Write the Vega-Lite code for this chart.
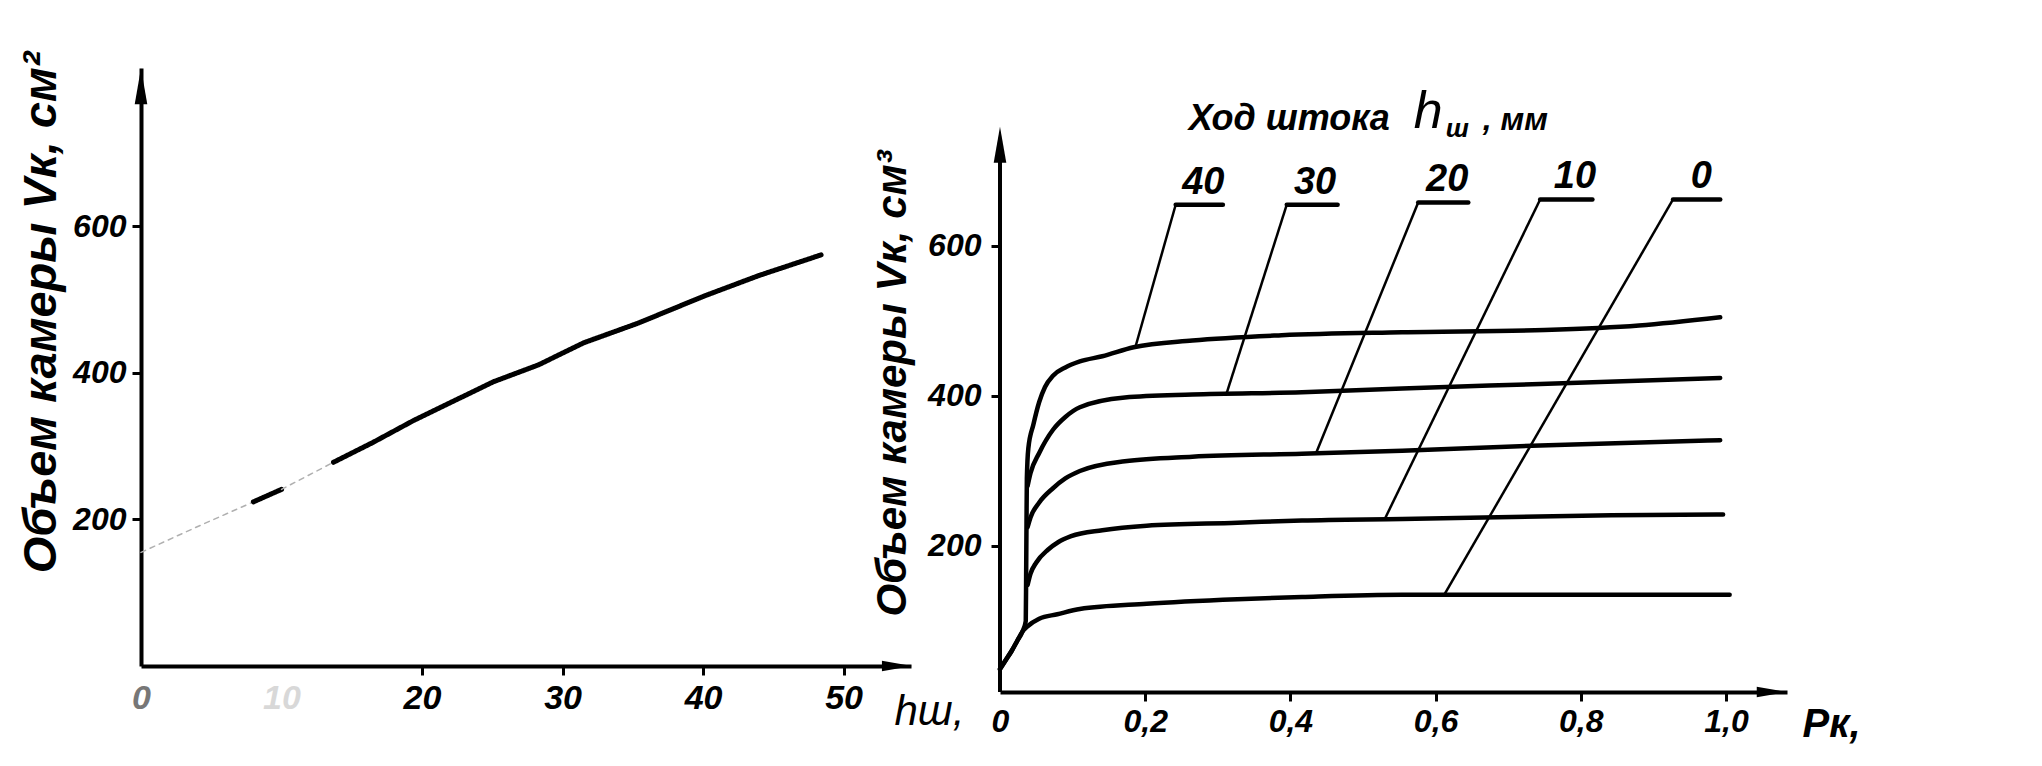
{
  "$schema": "https://vega.github.io/schema/vega-lite/v6.json",
  "background": "white",
  "padding": {"left": 16, "top": 51, "right": 10, "bottom": 5},
  "config": {
    "view": {"stroke": null},
    "font": "Liberation Sans",
    "axis": {"grid": false, "domainColor": "black", "tickColor": "black", "labelColor": "black", "titleColor": "black", "labelFlush": false, "labelOverlap": false}
  },
  "spacing": 89,
  "bounds": "flush",
  "datasets": {
    "volume_vs_stroke": [
      {"h_mm": 0, "V_cm3": 155, "seg": "a", "ink": "faint"},
      {"h_mm": 4, "V_cm3": 190, "seg": "a", "ink": "faint"},
      {"h_mm": 8, "V_cm3": 224, "seg": "a", "ink": "faint"},
      {"h_mm": 8, "V_cm3": 224, "seg": "b", "ink": "solid"},
      {"h_mm": 10, "V_cm3": 241, "seg": "b", "ink": "solid"},
      {"h_mm": 10, "V_cm3": 241, "seg": "c", "ink": "faint"},
      {"h_mm": 13.7, "V_cm3": 278, "seg": "c", "ink": "faint"},
      {"h_mm": 13.7, "V_cm3": 278, "seg": "d", "ink": "solid"},
      {"h_mm": 16.5, "V_cm3": 305, "seg": "d", "ink": "solid"},
      {"h_mm": 19.4, "V_cm3": 335, "seg": "d", "ink": "solid"},
      {"h_mm": 22.3, "V_cm3": 362, "seg": "d", "ink": "solid"},
      {"h_mm": 25.1, "V_cm3": 388, "seg": "d", "ink": "solid"},
      {"h_mm": 28.3, "V_cm3": 411, "seg": "d", "ink": "solid"},
      {"h_mm": 31.5, "V_cm3": 441, "seg": "d", "ink": "solid"},
      {"h_mm": 35.4, "V_cm3": 468, "seg": "d", "ink": "solid"},
      {"h_mm": 40.1, "V_cm3": 505, "seg": "d", "ink": "solid"},
      {"h_mm": 44, "V_cm3": 533, "seg": "d", "ink": "solid"},
      {"h_mm": 48.4, "V_cm3": 561, "seg": "d", "ink": "solid"}
    ],
    "volume_vs_pressure": [
      {"h_mm": 0, "p_k": 0, "V_cm3": 36},
      {"h_mm": 0, "p_k": 0.008, "V_cm3": 48},
      {"h_mm": 0, "p_k": 0.016, "V_cm3": 60},
      {"h_mm": 0, "p_k": 0.024, "V_cm3": 74},
      {"h_mm": 0, "p_k": 0.031, "V_cm3": 86},
      {"h_mm": 0, "p_k": 0.038, "V_cm3": 93},
      {"h_mm": 0, "p_k": 0.054, "V_cm3": 103},
      {"h_mm": 0, "p_k": 0.079, "V_cm3": 109},
      {"h_mm": 0, "p_k": 0.11, "V_cm3": 116},
      {"h_mm": 0, "p_k": 0.202, "V_cm3": 123},
      {"h_mm": 0, "p_k": 0.327, "V_cm3": 129},
      {"h_mm": 0, "p_k": 0.416, "V_cm3": 132},
      {"h_mm": 0, "p_k": 0.554, "V_cm3": 135},
      {"h_mm": 0, "p_k": 0.744, "V_cm3": 135},
      {"h_mm": 0, "p_k": 1.005, "V_cm3": 135},
      {"h_mm": 10, "p_k": 0.038, "V_cm3": 148},
      {"h_mm": 10, "p_k": 0.042, "V_cm3": 163},
      {"h_mm": 10, "p_k": 0.05, "V_cm3": 178},
      {"h_mm": 10, "p_k": 0.066, "V_cm3": 195},
      {"h_mm": 10, "p_k": 0.08, "V_cm3": 205},
      {"h_mm": 10, "p_k": 0.098, "V_cm3": 213},
      {"h_mm": 10, "p_k": 0.141, "V_cm3": 221},
      {"h_mm": 10, "p_k": 0.202, "V_cm3": 227},
      {"h_mm": 10, "p_k": 0.327, "V_cm3": 231},
      {"h_mm": 10, "p_k": 0.416, "V_cm3": 234},
      {"h_mm": 10, "p_k": 0.554, "V_cm3": 236},
      {"h_mm": 10, "p_k": 0.842, "V_cm3": 241},
      {"h_mm": 10, "p_k": 0.996, "V_cm3": 242},
      {"h_mm": 20, "p_k": 0.038, "V_cm3": 225},
      {"h_mm": 20, "p_k": 0.042, "V_cm3": 238},
      {"h_mm": 20, "p_k": 0.054, "V_cm3": 258},
      {"h_mm": 20, "p_k": 0.073, "V_cm3": 277},
      {"h_mm": 20, "p_k": 0.09, "V_cm3": 290},
      {"h_mm": 20, "p_k": 0.11, "V_cm3": 300},
      {"h_mm": 20, "p_k": 0.172, "V_cm3": 313},
      {"h_mm": 20, "p_k": 0.265, "V_cm3": 319},
      {"h_mm": 20, "p_k": 0.416, "V_cm3": 323},
      {"h_mm": 20, "p_k": 0.554, "V_cm3": 327},
      {"h_mm": 20, "p_k": 0.744, "V_cm3": 334},
      {"h_mm": 20, "p_k": 0.992, "V_cm3": 341},
      {"h_mm": 30, "p_k": 0.038, "V_cm3": 280},
      {"h_mm": 30, "p_k": 0.042, "V_cm3": 297},
      {"h_mm": 30, "p_k": 0.054, "V_cm3": 324},
      {"h_mm": 30, "p_k": 0.073, "V_cm3": 355},
      {"h_mm": 30, "p_k": 0.09, "V_cm3": 372},
      {"h_mm": 30, "p_k": 0.11, "V_cm3": 385},
      {"h_mm": 30, "p_k": 0.172, "V_cm3": 398},
      {"h_mm": 30, "p_k": 0.265, "V_cm3": 402},
      {"h_mm": 30, "p_k": 0.416, "V_cm3": 405},
      {"h_mm": 30, "p_k": 0.554, "V_cm3": 410},
      {"h_mm": 30, "p_k": 0.744, "V_cm3": 416},
      {"h_mm": 30, "p_k": 0.992, "V_cm3": 424},
      {"h_mm": 40, "p_k": 0, "V_cm3": 36},
      {"h_mm": 40, "p_k": 0.008, "V_cm3": 48},
      {"h_mm": 40, "p_k": 0.016, "V_cm3": 60},
      {"h_mm": 40, "p_k": 0.024, "V_cm3": 74},
      {"h_mm": 40, "p_k": 0.031, "V_cm3": 86},
      {"h_mm": 40, "p_k": 0.0355, "V_cm3": 100},
      {"h_mm": 40, "p_k": 0.036, "V_cm3": 160},
      {"h_mm": 40, "p_k": 0.0365, "V_cm3": 230},
      {"h_mm": 40, "p_k": 0.037, "V_cm3": 290},
      {"h_mm": 40, "p_k": 0.039, "V_cm3": 330},
      {"h_mm": 40, "p_k": 0.046, "V_cm3": 362},
      {"h_mm": 40, "p_k": 0.054, "V_cm3": 392},
      {"h_mm": 40, "p_k": 0.062, "V_cm3": 412},
      {"h_mm": 40, "p_k": 0.073, "V_cm3": 427},
      {"h_mm": 40, "p_k": 0.09, "V_cm3": 438},
      {"h_mm": 40, "p_k": 0.11, "V_cm3": 446},
      {"h_mm": 40, "p_k": 0.141, "V_cm3": 453},
      {"h_mm": 40, "p_k": 0.184, "V_cm3": 465},
      {"h_mm": 40, "p_k": 0.265, "V_cm3": 474},
      {"h_mm": 40, "p_k": 0.388, "V_cm3": 481},
      {"h_mm": 40, "p_k": 0.554, "V_cm3": 485},
      {"h_mm": 40, "p_k": 0.75, "V_cm3": 488},
      {"h_mm": 40, "p_k": 0.88, "V_cm3": 494},
      {"h_mm": 40, "p_k": 0.992, "V_cm3": 505}
    ],
    "leaders": [
      {"h_mm": 40, "label": "40", "p_curve": 0.187, "V_curve": 467, "p_bend": 0.242, "V_bend": 655, "p_end": 0.307, "p_label": 0.28},
      {"h_mm": 30, "label": "30", "p_curve": 0.312, "V_curve": 403, "p_bend": 0.395, "V_bend": 655, "p_end": 0.465, "p_label": 0.434},
      {"h_mm": 20, "label": "20", "p_curve": 0.435, "V_curve": 323, "p_bend": 0.576, "V_bend": 658, "p_end": 0.645, "p_label": 0.616},
      {"h_mm": 10, "label": "10", "p_curve": 0.53, "V_curve": 236, "p_bend": 0.744, "V_bend": 662, "p_end": 0.816, "p_label": 0.792},
      {"h_mm": 0, "label": "0", "p_curve": 0.612, "V_curve": 135, "p_bend": 0.927, "V_bend": 662, "p_end": 0.992, "p_label": 0.966}
    ]
  },
  "hconcat": [
    {
      "width": 770,
      "height": 598,
      "layer": [
        {
          "data": {"name": "volume_vs_stroke"},
          "mark": {"type": "line", "strokeCap": "round", "strokeJoin": "round"},
          "encoding": {
            "x": {
              "field": "h_mm", "type": "quantitative",
              "scale": {"domain": [0, 54.8], "nice": false, "zero": false},
              "axis": {
                "values": [0, 10, 20, 30, 40, 50],
                "title": "hш,",
                "titleX": 753, "titleY": 58, "titleAlign": "left", "titleBaseline": "alphabetic", "titleAngle": 0,
                "titleFontSize": 42, "titleFontStyle": "italic", "titleFontWeight": "normal",
                "labelFontSize": 34, "labelFontStyle": "italic", "labelFontWeight": "bold", "labelPadding": 6,
                "labelColor": {"condition": {"test": "datum.value == 0", "value": "#777777"}, "value": "black"},
                "labelOpacity": {"condition": {"test": "datum.value == 10", "value": 0.15}, "value": 1},
                "tickOpacity": {"condition": {"test": "datum.value <= 10", "value": 0}, "value": 1},
                "tickSize": 9, "tickWidth": 3, "domainWidth": 4
              }
            },
            "y": {
              "field": "V_cm3", "type": "quantitative",
              "scale": {"domain": [0, 816], "nice": false},
              "axis": {
                "values": [200, 400, 600],
                "title": "Объем камеры Vк, см²",
                "titleX": -100, "titleY": 244, "titleAngle": -90, "titleAlign": "center", "titleBaseline": "middle",
                "titleFontSize": 47, "titleFontStyle": "italic", "titleFontWeight": "bold",
                "labelFontSize": 32, "labelFontStyle": "italic", "labelFontWeight": "bold", "labelPadding": 6,
                "tickSize": 9, "tickWidth": 3, "domainWidth": 4
              }
            },
            "detail": {"field": "seg"},
            "color": {"field": "ink", "type": "nominal", "scale": {"domain": ["faint", "solid"], "range": ["#b0b0b0", "#000000"]}, "legend": null},
            "strokeWidth": {"field": "ink", "type": "nominal", "scale": {"domain": ["faint", "solid"], "range": [1.5, 5]}, "legend": null},
            "strokeDash": {"field": "ink", "type": "nominal", "scale": {"domain": ["faint", "solid"], "range": [[5, 5], [1, 0]]}, "legend": null}
          }
        },
        {
          "data": {"values": [{}]},
          "mark": {"type": "point", "shape": "M-0.35,1L0,-1L0.35,1Z", "filled": true, "color": "black", "opacity": 1, "size": 1296},
          "encoding": {"x": {"datum": 0}, "y": {"datum": 791}}
        },
        {
          "data": {"values": [{}]},
          "mark": {"type": "point", "shape": "M-1,-0.35L1,0L-1,0.35Z", "filled": true, "color": "black", "opacity": 1, "size": 900},
          "encoding": {"x": {"datum": 53.8}, "y": {"datum": 0}}
        }
      ]
    },
    {
      "width": 787,
      "height": 624,
      "layer": [
        {
          "data": {"name": "volume_vs_pressure"},
          "mark": {"type": "line", "color": "black", "strokeWidth": 4.5, "strokeCap": "round", "strokeJoin": "round", "interpolate": "monotone"},
          "encoding": {
            "x": {
              "field": "p_k", "type": "quantitative",
              "scale": {"domain": [0, 1.084], "nice": false, "zero": false},
              "axis": {
                "values": [0, 0.2, 0.4, 0.6, 0.8, 1.0],
                "labelExpr": "datum.value == 0 ? '0' : replace(format(datum.value, '.1f'), '.', ',')",
                "title": "Pк,",
                "titleX": 802, "titleY": 44, "titleAlign": "left", "titleBaseline": "alphabetic", "titleAngle": 0,
                "titleFontSize": 40, "titleFontStyle": "italic", "titleFontWeight": "bold",
                "labelFontSize": 32, "labelFontStyle": "italic", "labelFontWeight": "bold", "labelPadding": 5,
                "tickOpacity": {"condition": {"test": "datum.value == 0", "value": 0}, "value": 1},
                "tickSize": 9, "tickWidth": 3, "domainWidth": 4
              }
            },
            "y": {
              "field": "V_cm3", "type": "quantitative",
              "scale": {"domain": [5.3, 837.3], "nice": false, "zero": false},
              "axis": {
                "values": [200, 400, 600],
                "domain": false,
                "title": "Объем камеры Vк, см³",
                "titleX": -108, "titleY": 315, "titleAngle": -90, "titleAlign": "center", "titleBaseline": "middle",
                "titleFontSize": 42, "titleFontStyle": "italic", "titleFontWeight": "bold",
                "labelFontSize": 32, "labelFontStyle": "italic", "labelFontWeight": "bold", "labelPadding": 10,
                "tickSize": 9, "tickWidth": 3
              }
            },
            "detail": {"field": "h_mm"}
          }
        },
        {
          "data": {"values": [{}]},
          "mark": {"type": "rule", "color": "black", "strokeWidth": 4},
          "encoding": {"x": {"datum": 0}, "y": {"datum": 5.3}, "y2": {"datum": 737}}
        },
        {
          "data": {"values": [{}]},
          "mark": {"type": "point", "shape": "M-0.35,1L0,-1L0.35,1Z", "filled": true, "color": "black", "opacity": 1, "size": 1296},
          "encoding": {"x": {"datum": 0}, "y": {"datum": 735}}
        },
        {
          "data": {"values": [{}]},
          "mark": {"type": "point", "shape": "M-1,-0.35L1,0L-1,0.35Z", "filled": true, "color": "black", "opacity": 1, "size": 900},
          "encoding": {"x": {"datum": 1.063}, "y": {"datum": 5.3}}
        },
        {
          "data": {"name": "leaders"},
          "mark": {"type": "rule", "color": "black", "strokeWidth": 2.5},
          "encoding": {
            "x": {"field": "p_curve", "type": "quantitative"},
            "y": {"field": "V_curve", "type": "quantitative"},
            "x2": {"field": "p_bend"},
            "y2": {"field": "V_bend"}
          }
        },
        {
          "data": {"name": "leaders"},
          "mark": {"type": "rule", "color": "black", "strokeWidth": 4.5, "strokeCap": "round"},
          "encoding": {
            "x": {"field": "p_bend", "type": "quantitative"},
            "x2": {"field": "p_end"},
            "y": {"field": "V_bend", "type": "quantitative"}
          }
        },
        {
          "data": {"name": "leaders"},
          "mark": {"type": "text", "fontSize": 38, "fontStyle": "italic", "fontWeight": "bold", "align": "center", "baseline": "alphabetic", "dy": -11, "color": "black"},
          "encoding": {
            "x": {"field": "p_label", "type": "quantitative"},
            "y": {"field": "V_bend", "type": "quantitative"},
            "text": {"field": "label"}
          }
        },
        {
          "data": {"values": [{}]},
          "mark": {"type": "text", "fontSize": 36, "fontStyle": "italic", "fontWeight": "bold", "align": "left", "baseline": "alphabetic", "color": "black"},
          "encoding": {"x": {"datum": 0.26}, "y": {"datum": 755}, "text": {"value": "Ход штока"}}
        },
        {
          "data": {"values": [{}]},
          "mark": {"type": "text", "fontSize": 52, "fontStyle": "italic", "align": "left", "baseline": "alphabetic", "color": "black"},
          "encoding": {"x": {"datum": 0.57}, "y": {"datum": 757}, "text": {"value": "h"}}
        },
        {
          "data": {"values": [{}]},
          "mark": {"type": "text", "fontSize": 26, "fontStyle": "italic", "fontWeight": "bold", "align": "left", "baseline": "alphabetic", "color": "black"},
          "encoding": {"x": {"datum": 0.614}, "y": {"datum": 745}, "text": {"value": "ш"}}
        },
        {
          "data": {"values": [{}]},
          "mark": {"type": "text", "fontSize": 32, "fontStyle": "italic", "fontWeight": "bold", "align": "left", "baseline": "alphabetic", "color": "black"},
          "encoding": {"x": {"datum": 0.665}, "y": {"datum": 755}, "text": {"value": ", мм"}}
        }
      ]
    }
  ]
}
